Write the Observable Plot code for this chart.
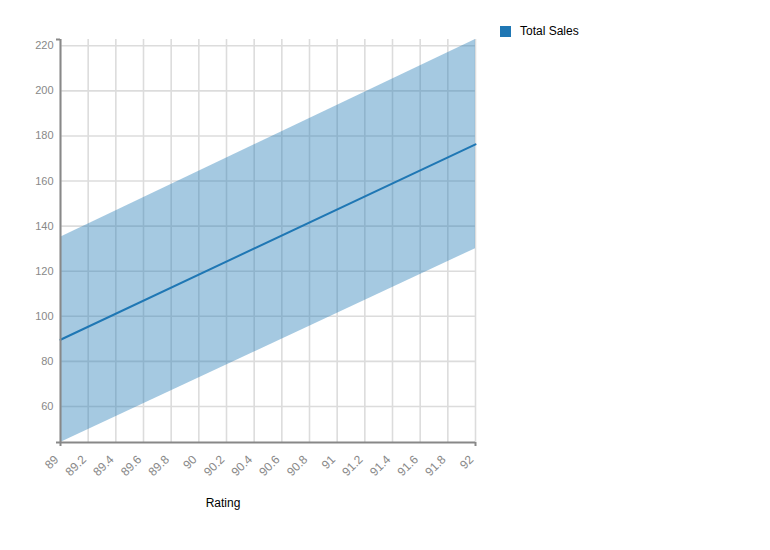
<!DOCTYPE html>
<html>
<head>
<meta charset="utf-8">
<script src="https://cdn.jsdelivr.net/npm/d3@7"></script>
<script src="https://cdn.jsdelivr.net/npm/@observablehq/plot@0.6"></script>
<style>
  html, body { margin: 0; padding: 0; background: #fff; }
  #wrap { position: relative; width: 770px; height: 550px; font-family: "Liberation Sans", Arial, sans-serif; }
  #legend { position: absolute; left: 500px; top: 24px; display: flex; align-items: center; font-size: 12px; color: #000; }
  #legend .sw { width: 11px; height: 11px; background: #1f77b4; margin-right: 9px; }
</style>
</head>
<body>
<div id="wrap">
  <div id="chart"></div>
  <div id="legend"><div class="sw"></div><span>Total Sales</span></div>
</div>
<script>
const ratings = [89, 92];
const fitted = [89.6, 176.3];
const lower = [44.0, 130.0];
const upper = [135.1, 222.8];
const xTicks = [89, 89.2, 89.4, 89.6, 89.8, 90, 90.2, 90.4, 90.6, 90.8, 91, 91.2, 91.4, 91.6, 91.8, 92];
const yTicks = [60, 80, 100, 120, 140, 160, 180, 200, 220];
const xLabel = "Rating";

const rows = ratings.map((r, i) => ({rating: r, fit: fitted[i], lo: lower[i], hi: upper[i]}));
const yDomain = [d3.min(lower), d3.max(upper)];
const xDomain = d3.extent(ratings);
const axisColor = "#888";

const chart = Plot.plot({
  width: 770,
  height: 550,
  marginLeft: 60,
  marginRight: 295,
  marginTop: 39,
  marginBottom: 108,
  style: {fontFamily: "Liberation Sans, Arial, sans-serif", background: "#fff"},
  x: {domain: xDomain, axis: null},
  y: {domain: yDomain, axis: null},
  marks: [
    Plot.gridX(xTicks, {stroke: "#dcdcdc", strokeOpacity: 1, strokeWidth: 1.6}),
    Plot.gridY(yTicks, {stroke: "#dcdcdc", strokeOpacity: 1, strokeWidth: 1.6}),
    Plot.areaY(rows, {x: "rating", y1: "lo", y2: "hi", fill: "#1f77b4", fillOpacity: 0.4}),
    Plot.lineY(rows, {x: "rating", y: "fit", stroke: "#1f77b4", strokeWidth: 2}),
    Plot.ruleX([xDomain[0]], {stroke: axisColor, strokeWidth: 2}),
    Plot.ruleY([yDomain[0]], {stroke: axisColor, strokeWidth: 2}),
    Plot.axisY({ticks: yDomain, tickSize: 4, text: null, stroke: axisColor, strokeWidth: 2, label: null}),
    Plot.axisX({ticks: xDomain, tickSize: 4, text: null, stroke: axisColor, strokeWidth: 2, label: null}),
    Plot.axisY({ticks: yTicks, tickSize: 0, tickPadding: 7, fill: axisColor, fontSize: 11, label: null}),
    Plot.axisX({ticks: xTicks, tickSize: 0, tickPadding: 15, dx: -4, tickRotate: -45, fill: axisColor, fontSize: 12, label: null, tickFormat: d => String(d)}),
    Plot.text([xLabel], {frameAnchor: "bottom", dx: -45, dy: 64, fill: "#000", fontSize: 12})
  ]
});
document.getElementById("chart").appendChild(chart);
</script>
</body>
</html>
